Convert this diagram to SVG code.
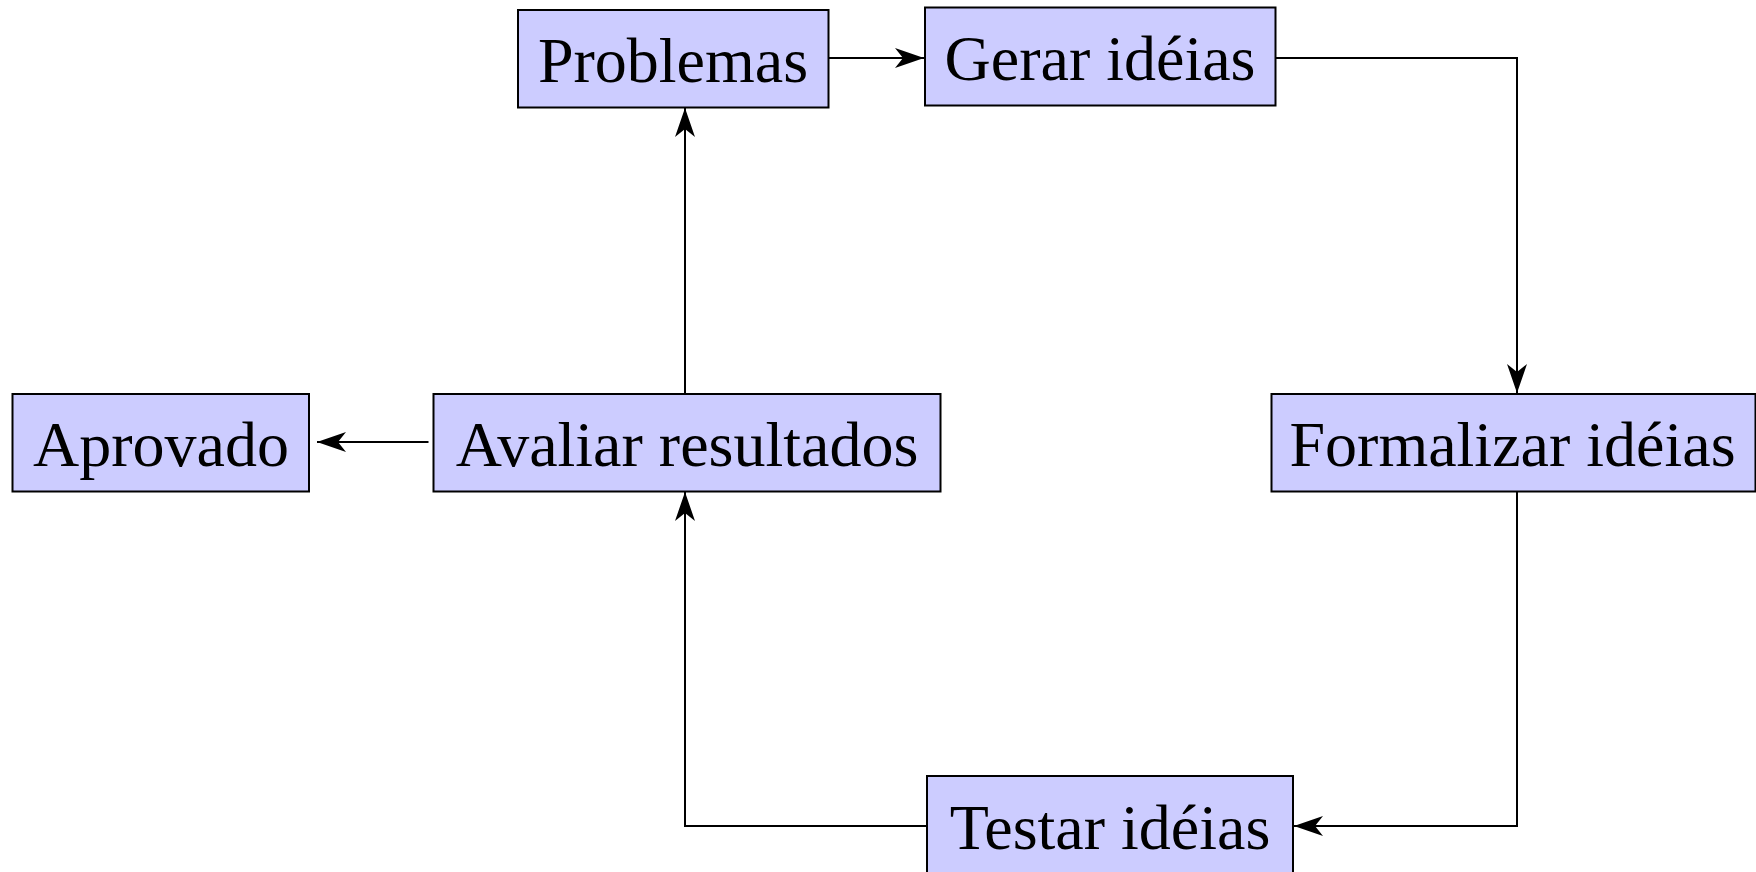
<svg xmlns="http://www.w3.org/2000/svg" width="1756" height="872" viewBox="0 0 1756 872">
<style>
.box{fill:#ccccff;stroke:#000;stroke-width:2}
.lbl{font-family:"Liberation Serif","Times New Roman",serif;font-size:64px;fill:#000;text-anchor:middle}
.edge{fill:none;stroke:#000;stroke-width:2;marker-end:url(#arr)}
</style>
<defs>
<marker id="arr" viewBox="0 0 29 20" refX="29" refY="10" markerWidth="29" markerHeight="20" markerUnits="userSpaceOnUse" orient="auto">
<path d="M0,0 L29,10 L0,20 L8,10 Z" fill="#000"/>
</marker>
</defs>
<g id="connectors">
<path class="edge" d="M829,58 H924"/>
<path class="edge" d="M1276,58 H1517 V393"/>
<path class="edge" d="M1517,491.5 V826 H1294"/>
<path class="edge" d="M927,826 H685 V492"/>
<path class="edge" d="M685,394 V108"/>
<path class="edge" d="M428.5,442 H317"/>
</g>
<g id="problemas">
<rect class="box" x="518" y="10" width="310.5" height="97.5"/>
<text class="lbl" x="673" y="82">Problemas</text>
</g>
<g id="gerar">
<rect class="box" x="925" y="7.5" width="350.5" height="98"/>
<text class="lbl" x="1100" y="80">Gerar idéias</text>
</g>
<g id="formalizar">
<rect class="box" x="1271.5" y="394" width="484" height="97.5"/>
<text class="lbl" x="1512.5" y="466">Formalizar idéias</text>
</g>
<g id="testar">
<rect class="box" x="927" y="776" width="366" height="100"/>
<text class="lbl" x="1110" y="848.5">Testar idéias</text>
</g>
<g id="avaliar">
<rect class="box" x="433.5" y="394" width="507" height="97.5"/>
<text class="lbl" x="687" y="466">Avaliar resultados</text>
</g>
<g id="aprovado">
<rect class="box" x="12.5" y="394" width="296.5" height="97.5"/>
<text class="lbl" x="161" y="466">Aprovado</text>
</g>
</svg>
